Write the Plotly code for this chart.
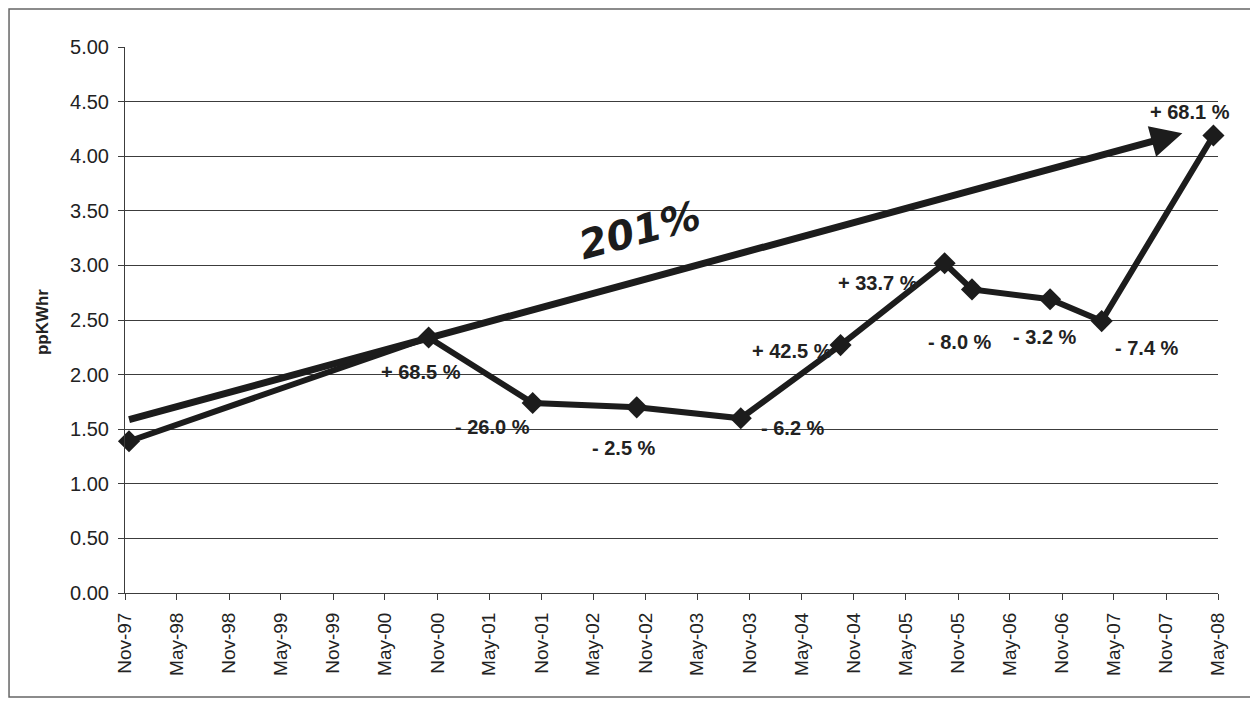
import plotly.graph_objects as go

# price per kWh readings (dates)
dates = ["1997-11-15", "2000-10-01", "2001-10-01", "2002-10-01", "2003-10-01",
         "2004-09-15", "2005-09-15", "2005-12-20", "2006-09-20", "2007-03-20",
         "2008-04-15"]
ppkwhr = [1.39, 2.34, 1.74, 1.70, 1.60, 2.27, 3.02, 2.78, 2.69, 2.49, 4.19]
pct_labels = ["", "+ 68.5 %", "- 26.0 %", "- 2.5 %", "- 6.2 %", "+ 42.5 %",
              "+ 33.7 %", "- 8.0 %", "- 3.2 %", "- 7.4 %", "+ 68.1 %"]
# pixel offsets of each change label from its point
label_shift = [(0, 0), (-8, -35), (-40, -24), (-13, -41), (52, -10), (-49, -6),
               (-67, -20), (-12, -53), (-5, -38), (45, -27), (-23, 23)]

# overall trend arrow (tail -> head) and its label
trend_start = ("1997-11-10", 1.585)
trend_end = ("2007-12-28", 4.21)
trend_text = "201%"

ink = "#1c1c1c"
grid = "#3c3c3c"
font = "Liberation Sans, Arial, sans-serif"

fig = go.Figure()
fig.add_trace(go.Scatter(
    x=dates, y=ppkwhr, mode="lines+markers",
    line=dict(color=ink, width=6),
    marker=dict(symbol="diamond", size=17, color=ink),
    cliponaxis=False, showlegend=False))

annotations = []
for d, v, t, (dx, dy) in zip(dates, ppkwhr, pct_labels, label_shift):
    if not t:
        continue
    annotations.append(dict(x=d, y=v, text=t, showarrow=False,
                            xshift=dx, yshift=dy,
                            font=dict(family=font, size=20, color="#222", weight="bold")))

annotations.append(dict(
    x=trend_end[0], y=trend_end[1], ax=trend_start[0], ay=trend_start[1],
    axref="x", ayref="y", xref="x", yref="y", text="",
    showarrow=True, arrowhead=2, arrowsize=0.9, arrowwidth=7, arrowcolor=ink,
    standoff=0, startstandoff=0))

annotations.append(dict(
    x="2002-10-13", y=3.32, text=trend_text, showarrow=False, textangle=-15,
    font=dict(family="DejaVu Sans, sans-serif", size=40, color=ink,
              weight="bold", style="italic")))

annotations.append(dict(
    x=-0.076, y=0.496, xref="paper", yref="paper", text="ppKWhr",
    xanchor="center", yanchor="middle",
    textangle=-90, showarrow=False,
    font=dict(family=font, size=17, color="#222", weight="bold")))

fig.update_layout(
    width=1250, height=693,
    margin=dict(l=117, r=40, t=39, b=108),
    paper_bgcolor="white", plot_bgcolor="white",
    annotations=annotations,
    shapes=[dict(type="rect", xref="paper", yref="paper",
                 x0=-0.1061, x1=1.031, y0=-0.1905, y1=1.0696,
                 line=dict(color="#666", width=1.5))],
    xaxis=dict(
        type="date", range=["1997-11-01", "2008-05-01"],
        tick0="1997-11-01", dtick="M6", tickformat="%b-%y",
        tickangle=-90, showgrid=False, showline=True, linecolor=grid,
        ticks="outside", ticklen=6, tickcolor=grid, ticklabelstandoff=5,
        tickfont=dict(family=font, size=19, color="#222")),
    yaxis=dict(
        range=[0, 5], dtick=0.5, tickformat=".2f",
        showgrid=True, gridcolor=grid, gridwidth=1,
        showline=True, linecolor=grid, zeroline=False,
        ticks="outside", ticklen=6, tickcolor=grid, ticklabelstandoff=5,
        tickfont=dict(family=font, size=20, color="#222")),
)

fig.write_html("out.html")
